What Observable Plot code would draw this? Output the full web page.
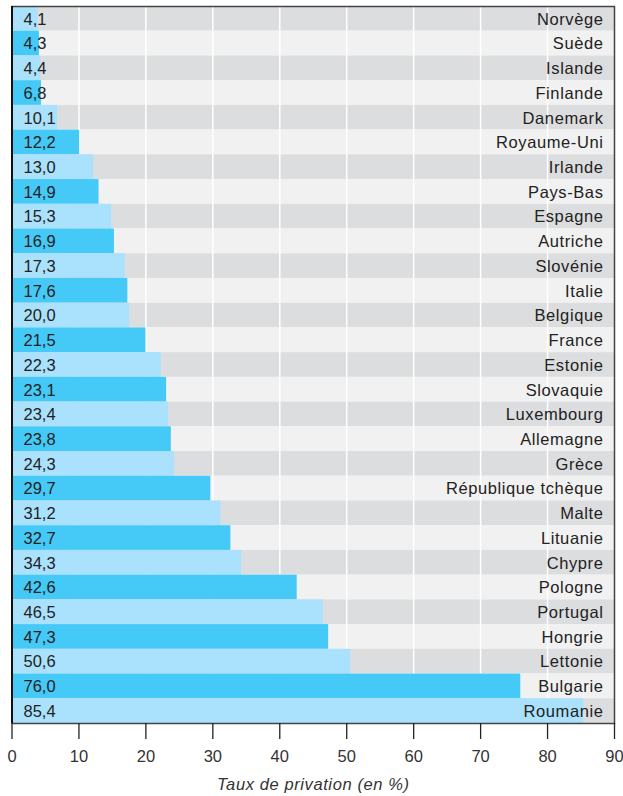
<!DOCTYPE html>
<html>
<head>
<meta charset="utf-8">
<script src="https://cdn.jsdelivr.net/npm/d3@7"></script>
<script src="https://cdn.jsdelivr.net/npm/@observablehq/plot@0.6"></script>
<style>
  html, body { margin: 0; padding: 0; background: #fff; }
  #chart svg { display: block; }
  .cn text { letter-spacing: 0.6px; }
  .ttl text { letter-spacing: 0.6px; }
</style>
</head>
<body>
<div id="chart"></div>
<script>
const countries = ["Norvège","Suède","Islande","Finlande","Danemark","Royaume-Uni","Irlande","Pays-Bas","Espagne","Autriche","Slovénie","Italie","Belgique","France","Estonie","Slovaquie","Luxembourg","Allemagne","Grèce","République tchèque","Malte","Lituanie","Chypre","Pologne","Portugal","Hongrie","Lettonie","Bulgarie","Roumanie"];
const labelValues = [4.1,4.3,4.4,6.8,10.1,12.2,13.0,14.9,15.3,16.9,17.3,17.6,20.0,21.5,22.3,23.1,23.4,23.8,24.3,29.7,31.2,32.7,34.3,42.6,46.5,47.3,50.6,76.0,85.4];
const barValues = [3.9,4.1,4.3,4.4,6.8,10.1,12.2,13.0,14.9,15.3,16.9,17.3,17.6,20.0,22.3,23.1,23.4,23.8,24.3,29.7,31.2,32.7,34.3,42.6,46.5,47.3,50.6,76.0,85.4];
const xTicks = [0,10,20,30,40,50,60,70,80,90];
const axisTitle = "Taux de privation (en %)";

const rows = countries.map((c, i) => ({country: c, label: labelValues[i], bar: barValues[i], i}));
const font = "'Liberation Sans', Arial, sans-serif";

const chart = Plot.plot({
  width: 623,
  height: 796,
  marginLeft: 11.5,
  marginRight: 9,
  marginTop: 6,
  marginBottom: 73,
  style: {fontFamily: font, background: "#fff"},
  x: {domain: [0, 90], ticks: xTicks},
  y: {domain: countries, padding: 0, round: false, axis: null},
  marks: [
    Plot.barX(rows, {y: "country", x1: 0, x2: 90, fill: d => d.i % 2 ? "#f1f1f1" : "#dcdddf"}),
    Plot.ruleX(xTicks.slice(1, -1), {stroke: "#ffffff", strokeWidth: 1.5}),
    Plot.barX(rows, {y: "country", x: "bar", fill: d => d.i % 2 ? "#45c9f7" : "#aae1fc"}),
    Plot.text(rows, {y: "country", x: 0, dx: 11.5, dy: 0.5, text: d => d.label.toFixed(1).replace(".", ","), textAnchor: "start", fontSize: 16.5, fill: "#222"}),
    Plot.text(rows, {y: "country", x: 90, dx: -11, dy: 0.5, text: "country", textAnchor: "end", fontSize: 16.5, fill: "#222", className: "cn"}),
    Plot.frame({stroke: "#444", strokeWidth: 1.5}),
    Plot.ruleX([0], {stroke: "#111", strokeWidth: 2}),
    Plot.axisX({ticks: xTicks, tickSize: 16, tickPadding: 11, fontSize: 16.5, stroke: "#222", strokeWidth: 1.3, fill: "#333", label: null}),
    Plot.text([axisTitle], {frameAnchor: "bottom", dy: 66, fontSize: 16.5, fontStyle: "italic", fill: "#333", className: "ttl"})
  ]
});
document.getElementById("chart").appendChild(chart);
</script>
</body>
</html>
